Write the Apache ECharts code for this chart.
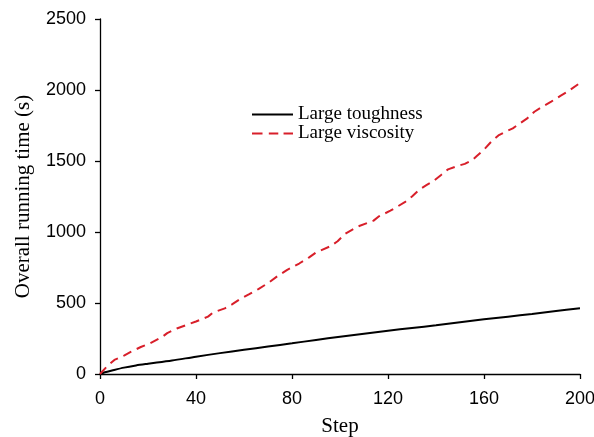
<!DOCTYPE html>
<html>
<head>
<meta charset="utf-8">
<style>
  html, body { margin: 0; padding: 0; background: #ffffff; }
  #chart { width: 594px; height: 437px; }
</style>
<script src="https://cdn.jsdelivr.net/npm/echarts@6/dist/echarts.min.js"></script>
</head>
<body>
<div id="chart"></div>
<script>
// Overall running time against simulation step
const seriesNames = ['Large toughness', 'Large viscosity'];

const toughSteps = [0, 2, 5, 10, 15, 20, 30, 40, 50, 60, 70, 80, 90, 100, 110, 120, 130, 140, 150, 160, 170, 180, 190, 200];
const toughTime  = [0, 12, 25, 45, 60, 72, 95, 122, 147, 170, 193, 216, 240, 263, 284, 305, 324, 343, 365, 385, 404, 423, 443, 463];

const viscSteps = [0, 3, 6, 10, 13, 17, 21, 26, 28, 32, 36, 40, 45, 47, 52, 55, 58, 62, 66, 70, 74, 78, 83, 87, 90, 96, 99, 102, 105, 108, 114, 116, 121, 124, 127, 130, 133, 136, 139, 142, 145, 149, 152, 155, 157, 160, 163, 166, 169, 172, 175, 178, 181, 184, 188, 192, 195, 200];
const viscTime  = [0, 55, 99, 130, 157, 190, 218, 262, 288, 320, 345, 370, 404, 432, 462, 490, 524, 560, 598, 640, 690, 733, 778, 820, 856, 900, 935, 985, 1015, 1042, 1080, 1108, 1150, 1180, 1210, 1250, 1298, 1330, 1360, 1400, 1441, 1465, 1480, 1505, 1535, 1580, 1636, 1680, 1706, 1730, 1765, 1800, 1847, 1880, 1918, 1960, 1990, 2050];

const xTicks = { min: 0, max: 200, interval: 40 };
const yTicks = { min: 0, max: 2500, interval: 500 };

const pair = (xs, ys) => xs.map((x, i) => [x, ys[i]]);

const sansFont = '"Liberation Sans", Arial, Helvetica, sans-serif';
const serifFont = '"Liberation Serif", "Times New Roman", serif';

const BLACK = '#000000';
const RED = '#d81f2a';

// Legend keys: a solid bar and a three-dash bar
const solidKey = 'path://M0,0H41V2H0Z';
const dashedKey = 'path://M0,0H10V2H0Z M16,0H25V2H16Z M30,0H39V2H30Z';

const chart = echarts.init(document.getElementById('chart'), null, { renderer: 'canvas' });

const axisCommon = {
  axisLine: { show: true, lineStyle: { color: '#000', width: 1.3 } },
  axisTick: { show: true, inside: false, length: 5, lineStyle: { color: '#000', width: 1.3 } },
  splitLine: { show: false },
  nameLocation: 'middle',
  nameTextStyle: { fontFamily: serifFont, fontSize: 21, color: '#000' }
};

const plainNumber = v => String(v);

chart.setOption({
  animation: false,
  backgroundColor: '#ffffff',
  grid: { left: 100, right: 14, top: 19, bottom: 63, containLabel: false, outerBoundsMode: 'none' },
  legend: {
    orient: 'vertical',
    left: 247,
    top: 100,
    itemWidth: 41,
    itemHeight: 2,
    itemGap: 0,
    symbolKeepAspect: false,
    textStyle: { fontFamily: serifFont, fontSize: 19, lineHeight: 17, color: '#000' },
    data: [
      { name: seriesNames[0], icon: solidKey, itemStyle: { color: BLACK } },
      { name: seriesNames[1], icon: dashedKey, itemStyle: { color: RED } }
    ]
  },
  xAxis: Object.assign({}, axisCommon, {
    type: 'value',
    min: xTicks.min, max: xTicks.max, interval: xTicks.interval,
    name: 'Step',
    nameGap: 42,
    axisLabel: { fontFamily: sansFont, fontSize: 18, color: '#000', margin: 16, formatter: plainNumber }
  }),
  yAxis: Object.assign({}, axisCommon, {
    type: 'value',
    min: yTicks.min, max: yTicks.max, interval: yTicks.interval,
    name: 'Overall running time (s)',
    nameGap: 66,
    axisLabel: { fontFamily: sansFont, fontSize: 18, color: '#000', margin: 14, formatter: plainNumber }
  }),
  series: [
    {
      name: seriesNames[0],
      type: 'line',
      data: pair(toughSteps, toughTime),
      showSymbol: false,
      symbol: 'none',
      smooth: 0.3,
      lineStyle: { color: BLACK, width: 2 },
      itemStyle: { color: BLACK }
    },
    {
      name: seriesNames[1],
      type: 'line',
      data: pair(viscSteps, viscTime),
      showSymbol: false,
      symbol: 'none',
      lineStyle: { color: RED, width: 2, type: [9, 6] },
      itemStyle: { color: RED }
    }
  ]
});
</script>
</body>
</html>
